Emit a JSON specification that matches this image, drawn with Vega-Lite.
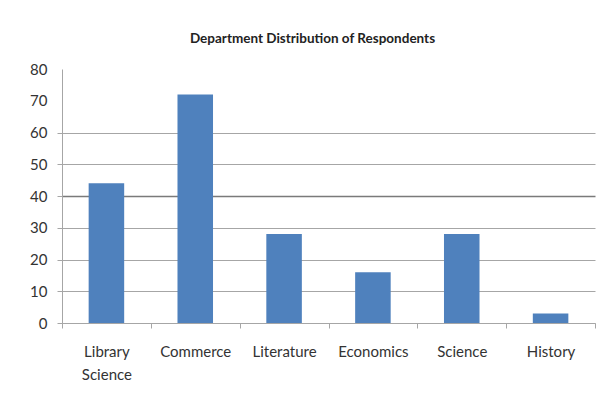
{
  "$schema": "https://vega.github.io/schema/vega-lite/v6.json",
  "autosize": {"type": "none"},
  "padding": {"left": 62, "top": 69, "right": 9, "bottom": 75},
  "width": 533,
  "height": 254,
  "background": "white",
  "title": {
    "text": "Department Distribution of Respondents",
    "font": "Lato",
    "fontSize": 13.5,
    "fontWeight": "bold",
    "color": "#222222",
    "anchor": "middle",
    "frame": "group",
    "dx": -16,
    "offset": 17
  },
  "data": {
    "values": [
      {"department": "Library Science", "respondents": 44},
      {"department": "Commerce", "respondents": 72},
      {"department": "Literature", "respondents": 28},
      {"department": "Economics", "respondents": 16},
      {"department": "Science", "respondents": 28},
      {"department": "History", "respondents": 3}
    ]
  },
  "mark": {"type": "bar", "color": "#4F81BD", "width": {"band": 0.4}},
  "encoding": {
    "x": {
      "field": "department",
      "type": "nominal",
      "sort": null,
      "scale": {"paddingInner": 0, "paddingOuter": 0},
      "axis": {
        "title": null,
        "labelAngle": 0,
        "labelFont": "Lato",
        "labelFontSize": 15,
        "labelColor": "#333333",
        "labelPadding": 16,
        "labelLineHeight": 23,
        "labelBaseline": "top",
        "labelExpr": "split(datum.label, ' ')",
        "tickBand": "extent",
        "tickSize": 5,
        "tickColor": "#a6a6a6",
        "domainColor": "#a6a6a6",
        "grid": false
      }
    },
    "y": {
      "field": "respondents",
      "type": "quantitative",
      "scale": {"domain": [0, 80], "nice": false},
      "axis": {
        "title": null,
        "values": [0, 10, 20, 30, 40, 50, 60, 70, 80],
        "labelFont": "Lato",
        "labelFontSize": 15,
        "labelColor": "#333333",
        "labelPadding": 10,
        "tickSize": 5,
        "tickColor": {"condition": {"test": "datum.value > 60", "value": "transparent"}, "value": "#a6a6a6"},
        "domainColor": "#a6a6a6",
        "grid": true,
        "gridColor": {"condition": {"test": "datum.value == 40", "value": "#7a7a7a"}, "value": "#a6a6a6"},
        "gridOpacity": {"condition": {"test": "datum.value > 60", "value": 0}, "value": 1},
        "gridWidth": {"condition": {"test": "datum.value == 40", "value": 1.5}, "value": 1}
      }
    }
  },
  "config": {"view": {"stroke": null}}
}
